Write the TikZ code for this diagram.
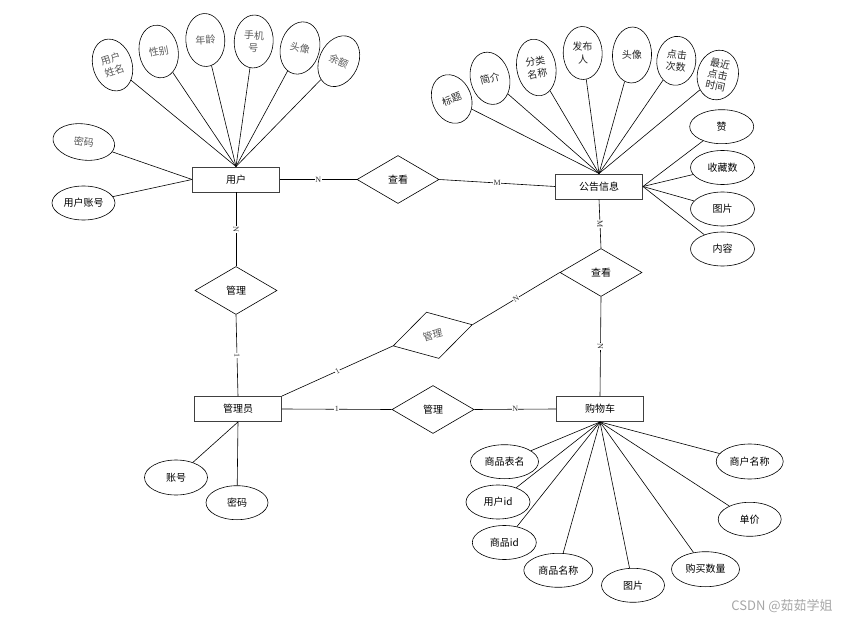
\documentclass[tikz,border=0pt]{standalone}
\usepackage{fontspec}
\newfontfamily\cjk{Noto Sans CJK SC}
\newfontfamily\timesfont{Liberation Serif}
\usepackage{tikz}
\usetikzlibrary{shapes.geometric}

\begin{document}
\begin{tikzpicture}[x=1pt,y=-1pt,
		entity/.style={draw=black!75,line width=0.9pt,minimum width=87pt,minimum height=25pt,inner sep=0pt,font=\cjk\fontsize{10}{12}\selectfont},
		relation/.style={draw,diamond,line width=0.6pt,minimum width=82pt,minimum height=48pt,inner sep=0pt,font=\cjk\fontsize{10}{12}\selectfont},
		attr/.style={draw,ellipse,line width=0.6pt,minimum width=64pt,minimum height=34pt,inner sep=0pt,font=\cjk\fontsize{10}{12}\selectfont},
		tallattr/.style={draw,ellipse,line width=0.6pt,minimum width=39pt,minimum height=53pt,inner sep=0pt,align=center,font=\cjk\fontsize{10}{12.5}\selectfont},
		card/.style={fill=white,inner sep=0.4pt,text=black!80,font=\timesfont\fontsize{8}{9}\selectfont},
		link/.style={line width=0.6pt}]
		\useasboundingbox (0,0) rectangle (851,620);
		\node[entity] (user) at (236,179.5) {用户};
		\node[entity] (notice) at (599,186.5) {公告信息};
		\node[entity] (admin) at (238,409) {管理员};
		\node[entity] (cart) at (600,409) {购物车};
		\node[relation] (view1) at (398,179.5) {查看};
		\node[relation] (manage1) at (236,290.5) {管理};
		\node[relation] (view2) at (601,272.5) {查看};
		\node[relation,rotate=15,text=black!65] (manage2) at (432.7,335.3) {管理};
		\node[relation] (manage3) at (433,409.5) {管理};
		\node[tallattr,rotate=18,text=black!65] (uname) at (112.5,65) {用户\\姓名};
		\node[tallattr,rotate=10,text=black!65] (usex) at (158.7,51.5) {性别};
		\node[tallattr,rotate=3,text=black!65] (uage) at (205.3,40) {年龄};
		\node[tallattr,rotate=-3,text=black!65] (uphone) at (253.7,41.5) {手机\\号};
		\node[tallattr,rotate=-14,text=black!65] (uhead) at (300,48) {头像};
		\node[tallattr,rotate=-25,text=black!65] (ubal) at (338.8,61.2) {余额};
		\node[attr,minimum width=62pt,minimum height=36pt,rotate=-8,text=black!65] (upwd) at (83.8,142) {密码};
		\node[attr,minimum width=63pt] (uacc) at (83.5,203) {用户账号};
		\node[tallattr,rotate=22,minimum height=50pt,text=black!85] (ntitle) at (451.7,99) {标题};
		\node[tallattr,rotate=14,text=black!85] (nintro) at (490,78.3) {简介};
		\node[tallattr,rotate=10,minimum height=57pt,text=black!85] (ncat) at (536.3,67.5) {分类\\名称};
		\node[tallattr,rotate=2,text=black!85] (npub) at (582.7,53) {发布\\人};
		\node[tallattr,rotate=-2,minimum height=56pt,text=black!85] (nhead) at (632,55) {头像};
		\node[tallattr,rotate=-6,minimum height=49pt,text=black!85] (nclick) at (676.3,60.8) {点击\\次数};
		\node[tallattr,rotate=-12,minimum width=41pt,minimum height=50pt,font=\cjk\fontsize{10}{11.5}\selectfont,text=black!85] (nlast) at (717.8,75) {最近\\点击\\时间};
		\node[attr] (nlike) at (721.7,126.7) {赞};
		\node[attr] (nfav) at (722.5,167.5) {收藏数};
		\node[attr] (npic) at (722.5,209) {图片};
		\node[attr] (ntext) at (722.5,249) {内容};
		\node[attr,minimum width=63pt,minimum height=35pt] (aacc) at (176,477.5) {账号};
		\node[attr,minimum width=62pt] (apwd) at (237,502.7) {密码};
		\node[attr,minimum width=68pt] (ctable) at (504.5,461.7) {商品表名};
		\node[attr] (cuid) at (498,502) {用户id};
		\node[attr] (cgid) at (504.3,542.5) {商品id};
		\node[attr,minimum width=69pt] (cgname) at (558.3,570.3) {商品名称};
		\node[attr,minimum width=63pt] (cpic) at (633,585.3) {图片};
		\node[attr,minimum width=68pt,minimum height=35pt] (cnum) at (705.5,569.2) {购买数量};
		\node[attr,minimum width=63pt] (cprice) at (749.7,519.3) {单价};
		\node[attr,minimum width=67pt,minimum height=35pt] (cshop) at (749.7,461.5) {商户名称};
		\node[text=black!35,font=\fontspec{Noto Sans CJK SC}\fontsize{13}{15}\selectfont] (mark) at (782,606) {CSDN @茹茹学姐};
		\foreach \a in {uname,usex,uage,uphone,uhead,ubal}
			\draw[link] (user.north) -- (\a);
		\draw[link] (user.west) -- (upwd);
		\draw[link] (user.west) -- (uacc);
		\foreach \a in {ntitle,nintro,ncat,npub,nhead,nclick,nlast}
			\draw[link] (notice.north) -- (\a);
		\foreach \a in {nlike,nfav,npic,ntext}
			\draw[link] (notice.east) -- (\a);
		\draw[link] (admin.south) -- (aacc);
		\draw[link] (admin.south) -- (apwd);
		\foreach \a in {ctable,cuid,cgid,cgname,cpic,cnum,cprice,cshop}
			\draw[link] (cart.south) -- (\a);
		\draw[link] (user.east) -- node[card] {N} (view1.west);
		\draw[link] (view1.east) -- node[card,pos=0.5] {M} (notice.west);
		\draw[link] (notice.south) -- node[card,rotate=-90] {M} (view2.north);
		\draw[link] (view2.south) -- node[card,rotate=-90] {N} (cart.north);
		\draw[link] (user.south) -- node[card,rotate=-90] {N} (manage1.north);
		\draw[link] (manage1.south) -- node[card,rotate=-90] {1} (admin.north);
		\draw[link] (admin.north east) -- node[card,rotate=28] {1} (manage2.west);
		\draw[link] (manage2.east) -- node[card,rotate=30] {N} (view2.west);
		\draw[link] (admin.east) -- node[card] {1} (manage3.west);
		\draw[link] (manage3.east) -- node[card] {N} (cart.west);
	\end{tikzpicture}
\end{document}
